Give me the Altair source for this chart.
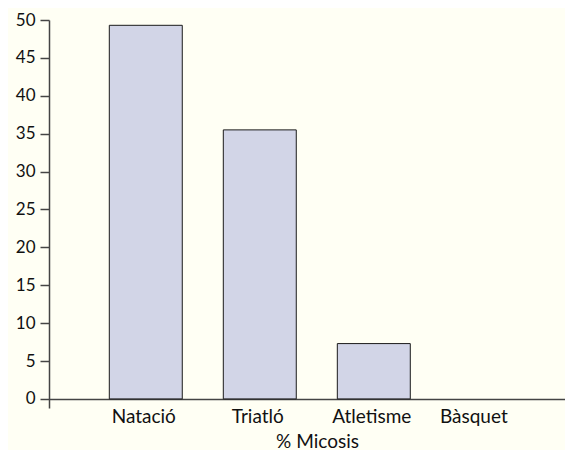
import altair as alt
import pandas as pd

categories = ["Natació", "Triatló", "Atletisme", "Bàsquet"]
values = [49.3, 35.5, 7.3, 0.0]

df = pd.DataFrame({"esport": categories, "micosis": values})

FONT = "Lato"

chart = alt.Chart(df).mark_bar(
    fill="#D2D5E7", strokeWidth=1
).encode(
    x=alt.X("esport:N", sort=categories, title="% Micosis",
            scale=alt.Scale(paddingInner=0.36, paddingOuter=0.443, align=0.597),
            axis=alt.Axis(labelAngle=0, ticks=False, offset=-9, labelPadding=8,
                          labelOffset={"condition": {"test": "datum.value === 'Bàsquet'", "value": -14}, "value": -2},
                          domainColor="#444", domainWidth=1.5,
                          labelFontSize=19, labelColor="#111", labelFont=FONT,
                          titleFontSize=19, titleColor="#111", titleFont=FONT,
                          titleFontWeight="normal", titleBaseline="alphabetic",
                          titleY=48, titleX=268)),
    y=alt.Y("micosis:Q", title=None,
            scale=alt.Scale(domain=[-1.2, 50], nice=False, zero=False),
            axis=alt.Axis(values=list(range(0, 51, 5)), grid=False,
                          tickSize=9, tickColor="#444", tickWidth=1.5,
                          domainColor="#444", domainWidth=1.5,
                          labelFontSize=17, labelColor="#111", labelFont=FONT,
                          labelPadding=5)),
    stroke=alt.condition(alt.datum.micosis > 0, alt.value("#1a1a1a"), alt.value("transparent")),
).properties(
    width=516, height=388,
    background="#FFFFF4",
    padding={"left": 41, "top": 12, "right": 0, "bottom": 42},
    autosize=alt.AutoSizeParams(type="none"),
).configure_view(stroke=None)

chart.save("out.html", embed_options={"renderer": "svg", "actions": False})
